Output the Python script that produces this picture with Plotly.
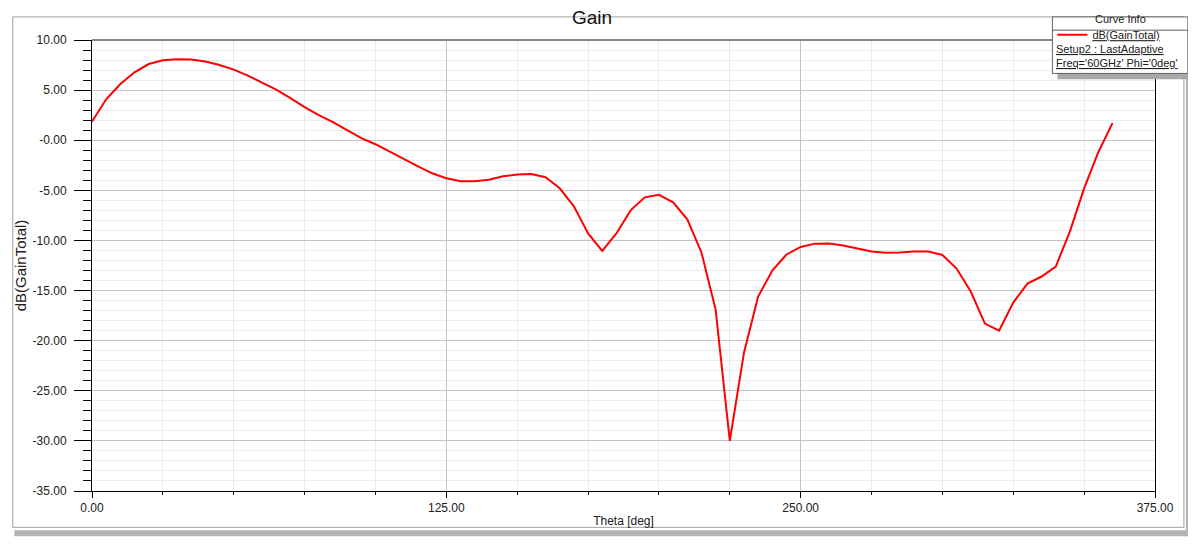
import plotly.graph_objects as go

# ---- data ----
theta_deg = [0, 5, 10, 15, 20, 25, 30, 35, 40, 45, 50, 55, 60, 65, 70, 75, 80, 85, 90,
             95, 100, 105, 110, 115, 120, 125, 130, 135, 140, 145, 150, 155, 160, 165,
             170, 175, 180, 185, 190, 195, 200, 205, 210, 215, 220, 225, 230, 235, 240,
             245, 250, 255, 260, 265, 270, 275, 280, 285, 290, 295, 300, 305, 310, 315,
             320, 325, 330, 335, 340, 345, 350, 355, 360]
gain_db = [1.86, 4.08, 5.6, 6.78, 7.6, 7.97, 8.07, 8.05, 7.85, 7.5, 7.05, 6.45, 5.75,
           5.05, 4.2, 3.3, 2.5, 1.8, 1.0, 0.2, -0.4, -1.15, -1.9, -2.6, -3.3, -3.8,
           -4.1, -4.1, -3.95, -3.6, -3.42, -3.38, -3.7, -4.8, -6.6, -9.3, -11.05, -9.3,
           -7.0, -5.7, -5.45, -6.2, -7.9, -11.2, -16.9, -30.0, -21.2, -15.6, -13.0,
           -11.4, -10.65, -10.32, -10.3, -10.5, -10.8, -11.1, -11.22, -11.2, -11.1,
           -11.1, -11.45, -12.8, -15.1, -18.3, -19.0, -16.2, -14.3, -13.6, -12.6, -9.1,
           -4.8, -1.2, 1.7]

x_tick_vals = [0, 125, 250, 375]
x_tick_text = ["0.00", "125.00", "250.00", "375.00"]
y_tick_vals = [10, 5, 0, -5, -10, -15, -20, -25, -30, -35]
y_tick_text = ["10.00", "5.00", "-0.00", "-5.00", "-10.00", "-15.00", "-20.00",
               "-25.00", "-30.00", "-35.00"]

trace_name = "dB(GainTotal)"
legend_lines = ["Setup2 : LastAdaptive", "Freq='60GHz' Phi='0deg'"]

# ---- layout geometry (screen pixels; page body has an 8px margin) ----
OFF = 8
W, H = 1196 - OFF, 544 - OFF
L, R, T, B = 88, 1155, 32, 491  # plot area in screen pixels


def xp(px):
    return (px - L) / (R - L)


def yp(py):
    return (B - py) / (B - T)


FONT = "Arial, Liberation Sans, sans-serif"

fig = go.Figure()
fig.add_trace(go.Scatter(
    x=theta_deg, y=gain_db, mode="lines",
    line=dict(color="#ff0000", width=2),
    name="<span style='text-decoration:underline'>" + trace_name + "</span>",
    showlegend=True,
))

shapes = []
# outer frame + shadow
shapes.append(dict(type="rect", xref="paper", yref="paper",
                   x0=xp(10), x1=xp(1192), y0=yp(531), y1=yp(537),
                   fillcolor="#b4b4b4", line=dict(width=0), layer="below"))
shapes.append(dict(type="rect", xref="paper", yref="paper",
                   x0=xp(1186), x1=xp(1192), y0=yp(10), y1=yp(537),
                   fillcolor="#b4b4b4", line=dict(width=0), layer="below"))
shapes.append(dict(type="rect", xref="paper", yref="paper",
                   x0=xp(8.5), x1=xp(1184), y0=yp(528), y1=yp(8.5),
                   fillcolor="rgba(0,0,0,0)", line=dict(color="#a0a0a0", width=1)))
# top border of plot (gray)
shapes.append(dict(type="line", xref="paper", yref="paper",
                   x0=0, x1=1, y0=1, y1=1, line=dict(color="#888888", width=2)))
# legend box shadow + box
shapes.append(dict(type="rect", xref="paper", yref="paper",
                   x0=xp(1057), x1=xp(1194), y0=yp(72), y1=yp(9),
                   fillcolor="#a8a8a8", line=dict(width=0)))
shapes.append(dict(type="rect", xref="paper", yref="paper",
                   x0=xp(1052), x1=xp(1188), y0=yp(66), y1=yp(8.5),
                   fillcolor="#ffffff", line=dict(color="#606060", width=1)))
shapes.append(dict(type="line", xref="paper", yref="paper",
                   x0=xp(1052), x1=xp(1188), y0=yp(22), y1=yp(22),
                   line=dict(color="#606060", width=1)))

annotations = [
    dict(text="Curve Info", xref="paper", yref="paper", x=xp(1120), y=yp(11),
         xanchor="center", yanchor="middle", showarrow=False,
         font=dict(family=FONT, size=11, color="#202020")),
]
for i, t in enumerate(legend_lines):
    annotations.append(dict(
        text="<span style='text-decoration:underline'>" + t + "</span>",
        xref="paper", yref="paper", x=xp(1054), y=yp(41 + 14 * i),
        xanchor="left", yanchor="middle", showarrow=False,
        font=dict(family=FONT, size=11, color="#202020")))

fig.update_layout(
    width=W, height=H, autosize=False,
    margin=dict(l=L - OFF, r=1196 - R, t=T - OFF, b=544 - B, pad=0),
    paper_bgcolor="white", plot_bgcolor="white",
    font=dict(family=FONT, size=12, color="#202020"),
    title=dict(text="Gain", x=(592 - OFF) / W, xref="container", xanchor="center",
               y=1 - (17 - OFF) / H, yref="container", yanchor="middle",
               font=dict(family=FONT, size=19, color="#101010")),
    showlegend=True,
    legend=dict(x=xp(1052), y=yp(12), xanchor="left", yanchor="top",
                bgcolor="rgba(0,0,0,0)", borderwidth=0,
                font=dict(family=FONT, size=11, color="#202020"),
                itemwidth=30),
    shapes=shapes,
    annotations=annotations,
    xaxis=dict(
        range=[0, 375], tickmode="array", tickvals=x_tick_vals, ticktext=x_tick_text,
        ticks="outside", ticklen=6, tickwidth=1, tickcolor="#000000",
        showline=True, linecolor="#000000", linewidth=1, mirror=False,
        showgrid=True, gridcolor="#c4c4c4", gridwidth=1, zeroline=False,
        tickfont=dict(family=FONT, size=12, color="#202020"),
        title=dict(text="Theta [deg]", standoff=2,
                   font=dict(family=FONT, size=12, color="#202020")),
        minor=dict(tickmode="linear", tick0=0, dtick=25, ticks="outside", ticklen=3,
                   tickcolor="#000000", showgrid=True, gridcolor="#ebebeb", gridwidth=1),
    ),
    yaxis=dict(
        range=[-35, 10], tickmode="array", tickvals=y_tick_vals, ticktext=y_tick_text,
        ticks="outside", ticklen=17, tickwidth=1, tickcolor="#000000",
        ticklabelstandoff=5,
        showline=True, linecolor="#000000", linewidth=1, mirror=True,
        showgrid=True, gridcolor="#c4c4c4", gridwidth=1, zeroline=False,
        tickfont=dict(family=FONT, size=12, color="#202020"),
        title=dict(text="dB(GainTotal)", standoff=2,
                   font=dict(family=FONT, size=15, color="#202020")),
        minor=dict(tickmode="linear", tick0=0, dtick=1, ticks="outside", ticklen=8,
                   tickcolor="#000000", showgrid=True, gridcolor="#ebebeb", gridwidth=1),
    ),
)

fig.write_html("out.html")
